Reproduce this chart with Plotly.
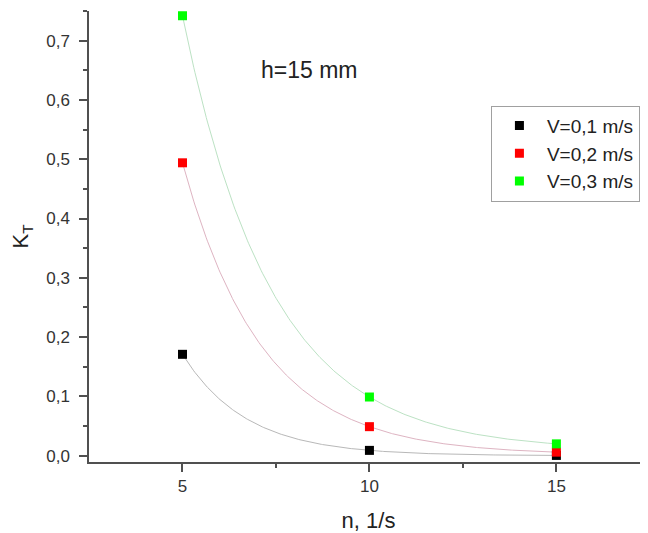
import numpy as np
import plotly.graph_objects as go

n_values = [5, 10, 15]
k_v01 = [0.171, 0.009, 0.0005]
k_v02 = [0.494, 0.049, 0.006]
k_v03 = [0.742, 0.099, 0.020]
series_names = ["V=0,1 m/s", "V=0,2 m/s", "V=0,3 m/s"]
marker_colors = ["#000000", "#ff0000", "#00ff00"]
curve_colors = ["#b8b8b8", "#deb4c2", "#bce2c4"]
y_ticks = [0.0, 0.1, 0.2, 0.3, 0.4, 0.5, 0.6, 0.7]
x_ticks = [5, 10, 15]


def exp_fit(xs, ys, grid):
    # exact 3-point exponential decay y = y0 + A*exp(-(x-x1)/t) for evenly spaced x
    y1, y2, y3 = ys
    y0 = (y1 * y3 - y2 ** 2) / (y1 + y3 - 2 * y2)
    r = (y3 - y0) / (y2 - y0)
    step = xs[1] - xs[0]
    return y0 + (y1 - y0) * r ** ((grid - xs[0]) / step)


FONT = "Arial, Liberation Sans, sans-serif"
fig = go.Figure()
grid = np.linspace(n_values[0], n_values[-1], 300)
all_series = [k_v01, k_v02, k_v03]

for ys, cc in zip(all_series, curve_colors):
    fig.add_trace(go.Scatter(x=grid, y=exp_fit(n_values, ys, grid), mode="lines",
                             line=dict(color=cc, width=1), showlegend=False, hoverinfo="skip"))

for ys, name, mc in zip(all_series, series_names, marker_colors):
    fig.add_trace(go.Scatter(x=n_values, y=ys, mode="markers", name=name,
                             marker=dict(symbol="square", size=9, color=mc,
                                         line=dict(width=0))))

fig.add_annotation(x=8.4, y=0.651, xref="x", yref="y", text="h=15 mm", showarrow=False,
                   font=dict(size=23, color="#222", family=FONT))

axis_common = dict(showline=True, linecolor="#505050", linewidth=1.5, ticks="outside",
                   ticklen=8, tickwidth=1.5, tickcolor="#505050", showgrid=False,
                   zeroline=False, mirror=False, automargin=False,
                   tickfont=dict(size=17, color="#333", family=FONT))

fig.update_layout(
    width=640, height=525,
    margin=dict(l=81, r=0, t=3, b=71),
    paper_bgcolor="white", plot_bgcolor="white",
    separators=", ",
    font=dict(family=FONT, color="#222"),
    showlegend=True,
    legend=dict(x=0.719, y=0.79, xanchor="left", yanchor="top",
                bordercolor="#a0a0a0", borderwidth=1, bgcolor="white",
                itemwidth=45, tracegroupgap=0,
                font=dict(size=19, color="#222", family=FONT)),
    xaxis=dict(range=[2.5, 17.45], tickvals=x_ticks,
               title=dict(text="n, 1/s", font=dict(size=22, family=FONT, color="#222"), standoff=18),
               minor=dict(tickvals=[7.5, 12.5], ticks="outside", ticklen=4, tickwidth=1.5, tickcolor="#505050"),
               **axis_common),
    yaxis=dict(range=[-0.0106, 0.75], tickvals=y_ticks, tickformat=".1f",
               title=dict(text="K<sub>T</sub>", font=dict(size=22, family=FONT, color="#222"), standoff=14),
               minor=dict(tickvals=[0.05, 0.15, 0.25, 0.35, 0.45, 0.55, 0.65, 0.75], ticks="outside",
                          ticklen=4, tickwidth=1.5, tickcolor="#505050"),
               ticklabelstandoff=6,
               **axis_common),
)

fig.write_html("out.html")
